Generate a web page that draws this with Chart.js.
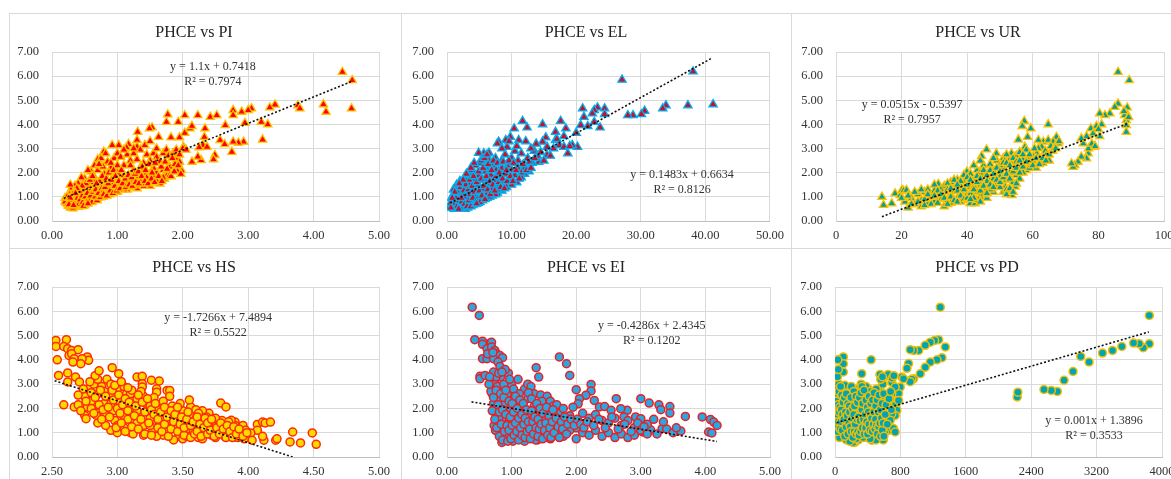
<!DOCTYPE html>
<html>
<head>
<meta charset="utf-8">
<script src="https://cdn.jsdelivr.net/npm/chart.js"></script>
<style>
html,body{margin:0;padding:0;background:#fff;overflow:hidden;width:1171px;height:479px;}
.box{position:absolute;box-sizing:border-box;border:1px solid #d9d9d9;}
canvas{position:absolute;}
</style>
</head>
<body>
<div class="box" style="left:9px;top:13px;width:393px;height:236px"></div>
<div class="box" style="left:401px;top:13px;width:391px;height:236px"></div>
<div class="box" style="left:791px;top:13px;width:400px;height:236px"></div>
<div class="box" style="left:9px;top:248px;width:393px;height:240px"></div>
<div class="box" style="left:401px;top:248px;width:391px;height:240px"></div>
<div class="box" style="left:791px;top:248px;width:400px;height:240px"></div>
<canvas id="c1" width="392" height="234" style="left:9px;top:13px"></canvas>
<canvas id="c2" width="389" height="234" style="left:402px;top:13px"></canvas>
<canvas id="c3" width="390" height="234" style="left:792px;top:13px"></canvas>
<canvas id="c4" width="392" height="231" style="left:9px;top:248px"></canvas>
<canvas id="c5" width="389" height="231" style="left:402px;top:248px"></canvas>
<canvas id="c6" width="390" height="231" style="left:792px;top:248px"></canvas>
<script>
// ---------------- DATA ----------------
const titles = ["PHCE vs PI","PHCE vs EL","PHCE vs UR","PHCE vs HS","PHCE vs EI","PHCE vs PD"];
const equations = [
  ["y = 1.1x + 0.7418","R² = 0.7974"],
  ["y = 0.1483x + 0.6634","R² = 0.8126"],
  ["y = 0.0515x - 0.5397","R² = 0.7957"],
  ["y = -1.7266x + 7.4894","R² = 0.5522"],
  ["y = -0.4286x + 2.4345","R² = 0.1202"],
  ["y = 0.001x + 1.3896","R² = 0.3533"]
];
const yTicks = [0,1,2,3,4,5,6,7];

const piData = [
[4.44,6.17],[4.59,5.83],[4.58,4.66],[4.15,4.83],[4.19,4.52],[3.76,4.79],[3.79,4.66],[3.41,4.82],[3.33,4.70],[3.20,4.10],[3.30,4.00],[3.22,3.37],[3.05,4.66],[3.00,4.59],[2.95,4.06],[2.90,4.52],[2.77,4.59],[2.77,4.38],[2.93,3.28],[2.85,3.24],[2.77,3.28],[2.75,2.86],[2.65,3.97],[2.57,3.35],[2.64,3.18],[2.42,4.31],[2.52,4.38],[2.49,2.73],[2.47,2.55],[2.23,4.38],[2.34,3.83],[2.33,3.48],[2.31,3.14],[2.37,3.07],[2.28,2.52],[2.23,2.66],[2.14,2.45],[2.03,4.38],[2.01,3.07],[2.03,3.65],[2.11,3.83],[2.14,3.93],[1.93,4.10],[1.95,3.46],[1.77,4.41],[1.75,4.10],[1.82,3.46],[1.53,3.87],[1.49,3.83],[1.63,3.48],[1.31,3.69],[1.30,3.35],[1.42,3.14],[1.30,3.07],[1.17,3.18],[1.14,3.04],[1.02,3.14],[0.92,3.14],[0.79,2.86],
[0.70,2.55],[0.75,2.60],[0.82,2.80],[0.85,2.45],[0.95,2.60],[1.00,2.80],[1.05,2.65],[1.10,2.30],[1.15,2.75],[1.20,2.50],[1.25,2.80],[1.30,2.55],[1.35,2.20],[1.45,2.75],[1.50,2.50],[1.55,2.80],[1.60,2.65],[1.65,2.45],[1.70,2.80],[1.75,2.95],[1.78,2.70],[1.85,2.80],[1.90,2.55],[1.95,2.45],[1.98,2.10],[1.80,2.25],[1.70,2.10],[1.60,2.00],[1.55,1.85],[1.45,2.00],[1.40,1.70],[1.30,1.85],[1.20,1.60],[1.25,2.10],[1.10,1.90],[1.00,2.00],[0.95,1.70],[0.90,2.20],[0.85,1.60],[0.80,1.95],[0.75,1.70],[0.70,2.10],[0.65,1.80],[0.60,2.05],[0.55,2.10],[0.50,1.75],[0.45,1.80],[0.40,1.55],[0.35,1.45],[0.30,1.35],[0.28,1.50],[1.72,1.75],[1.78,2.00],[1.65,1.55],[1.50,1.45],[1.40,1.50],[1.30,1.35],[1.15,1.30],[1.05,1.45],[1.90,2.95],[2.00,3.00],[1.60,3.00],[1.50,3.30],[1.35,2.95],[1.25,3.00],[1.10,2.95],[0.90,2.40],[1.40,2.40],[1.55,2.20],[1.20,2.30],[1.00,2.30],[0.65,2.30],[0.78,2.25],[1.88,2.35],[1.95,2.75],[2.05,2.95],[2.25,3.05],[1.92,2.05],[1.75,1.85],[1.62,1.72],
[0.20,0.95],[0.22,0.75],[0.25,0.62],[0.28,0.55],[0.30,0.70],[0.32,0.85],[0.35,1.00],[0.38,0.65],[0.40,0.80],[0.42,1.10],[0.45,0.70],[0.48,0.90],[0.50,1.20],[0.52,0.85],[0.55,1.00],[0.58,0.80],[0.60,1.30],[0.62,0.95],[0.65,1.10],[0.68,0.90],[0.70,1.40],[0.72,1.05],[0.75,1.20],[0.78,1.00],[0.80,1.50],[0.82,1.15],[0.85,1.30],[0.88,1.10],[0.90,1.45],[0.92,1.25],[0.95,1.60],[0.98,1.35],[1.00,1.20],[1.05,1.50],[1.10,1.30],[1.15,1.60],[1.20,1.40],[1.25,1.70],[1.30,1.50],[1.35,1.65],[1.40,1.45],[1.45,1.80],[1.50,1.60],[1.60,1.70],[1.70,1.80],[1.80,1.90],[0.25,0.85],[0.30,1.05],[0.33,1.20],[0.36,0.90],[0.40,1.30],[0.44,1.00],[0.50,0.65],[0.55,1.35],[0.60,0.85],[0.65,1.50],[0.70,0.95],[0.75,1.55],[0.35,0.60],[0.40,0.58],[0.45,0.60],[0.27,1.10],[0.23,1.00],[0.20,0.80],[0.32,0.52],
[0.24,0.70],[0.26,0.95],[0.29,0.80],[0.31,0.60],[0.34,0.75],[0.37,1.10],[0.39,0.95],[0.41,0.70],[0.43,0.88],[0.46,1.05],[0.47,0.78],[0.49,1.35],[0.51,1.00],[0.53,0.75],[0.54,1.15],[0.56,0.90],[0.57,1.45],[0.59,1.05],[0.61,0.78],[0.63,1.20],[0.64,1.60],[0.66,1.00],[0.67,1.30],[0.69,0.85],[0.71,1.15],[0.73,1.65],[0.74,0.98],[0.76,1.35],[0.77,1.85],[0.79,1.10],[0.81,1.40],[0.83,1.75],[0.84,1.05],[0.86,1.55],[0.87,2.00],[0.89,1.25],[0.91,1.70],[0.93,1.15],[0.94,2.10],[0.96,1.45],[0.97,1.85],[0.99,1.25],[1.02,1.65],[1.04,1.35],[1.06,2.10],[1.08,1.55],[1.12,1.75],[1.13,1.40],[1.17,1.90],[1.18,1.50],[1.22,1.80],[1.23,1.45],[1.27,1.95],[1.28,1.60],[1.32,2.05],[1.33,1.55],[1.37,1.85],[1.38,2.25],[1.42,1.65],[1.43,2.10],[1.47,1.55],[1.48,2.35],[1.52,1.75],[1.53,2.00],[1.57,1.60],[1.58,2.40],[1.63,1.85],[1.67,2.25],[1.68,1.65],[1.73,2.45],[1.76,2.15],[1.82,1.85],[1.84,2.60],[1.87,2.05],[1.93,2.30],[1.97,1.95],[0.52,1.55],[0.58,1.70],[0.62,1.85],[0.68,1.55],[0.72,2.35],[0.46,1.45],[0.42,1.25],[0.38,1.35],[0.36,1.15],[0.28,0.95],[0.26,0.68],[0.33,0.65],[0.48,0.62],[0.55,0.72]
];

const elData = [
[27.1,5.85],[38.1,6.19],[41.2,4.83],[37.3,4.79],[33.9,4.79],[33.4,4.66],[30.6,4.56],[30.1,4.42],[28.8,4.38],[28.0,4.38],[23.3,4.70],[22.8,4.59],[22.5,4.45],[24.4,4.66],[24.4,4.42],[21.0,4.66],[21.2,4.31],[21.8,3.93],[20.7,3.97],[23.7,3.87],[22.8,4.10],[20.0,3.65],[20.2,3.07],[19.4,3.14],[18.7,2.80],[17.6,4.14],[18.4,3.83],[16.8,3.69],[16.8,3.35],[17.4,3.14],[18.1,3.51],[18.1,3.07],[14.8,4.00],[15.3,3.46],[14.8,3.28],[15.5,3.07],[15.5,2.73],[11.7,4.14],[12.4,3.87],[10.4,3.83],[9.8,3.48],[11.1,3.35],[9.3,3.07],[9.1,3.35],[8.0,3.28],[7.8,3.21],[6.5,2.82],[5.7,2.80],[4.9,2.82],
[14.2,2.45],[13.5,2.90],[13.0,3.00],[12.5,2.60],[12.0,2.20],[11.5,2.80],[11.0,2.50],[10.5,2.90],[10.0,2.60],[9.5,2.30],[9.0,2.75],[8.5,2.50],[8.0,2.10],[7.5,2.60],[7.0,2.30],[6.5,2.50],[6.0,2.20],[5.5,2.60],[5.0,2.40],[4.5,1.90],[4.0,2.00],[3.5,1.85],[12.7,2.05],[13.2,2.40],[14.0,2.70],[16.0,2.70],[16.5,3.00],[15.0,2.50],[13.8,3.20],[12.2,3.30],[10.8,3.10],[9.6,3.30],[8.5,3.00],[17.0,3.40],[19.0,3.10],[12.0,1.95],[11.5,1.80],[10.8,1.60],[10.0,1.50],[9.2,1.40],[8.5,1.25],[7.8,1.15],[7.0,1.05],[6.2,0.95],[5.5,0.85],[4.8,0.75],[4.0,0.65],[3.2,0.55],[2.8,0.50],
[0.5,0.60],[0.8,0.70],[1.0,0.90],[1.2,0.60],[1.5,0.80],[1.8,1.00],[2.0,0.65],[2.2,1.20],[2.5,0.90],[2.8,1.30],[3.0,0.75],[3.2,1.10],[3.5,1.50],[3.8,0.90],[4.0,1.30],[4.2,1.70],[4.5,1.10],[4.8,1.50],[5.0,1.90],[5.2,0.95],[5.5,1.30],[5.8,1.70],[6.0,2.05],[6.2,1.15],[6.5,1.50],[6.8,1.90],[7.0,1.30],[7.3,1.70],[7.6,2.10],[7.9,1.45],[8.2,1.80],[8.5,2.20],[8.8,1.60],[9.1,1.95],[9.4,2.30],[9.7,1.75],[10.0,2.10],[10.5,1.90],[11.0,2.20],[11.5,2.00],[1.3,1.10],[1.7,1.30],[2.4,1.50],[2.9,1.70],[3.4,1.90],[3.9,2.10],[4.4,2.30],[5.3,2.50],[1.0,1.30],[1.5,1.50],[2.0,1.65],[0.7,0.95],[2.6,0.60],[3.6,0.70],[4.3,0.80],[6.6,1.00],[7.5,1.10],[8.3,1.30],[9.0,1.50],[1.1,0.50],[2.3,0.55],
[0.6,0.75],[0.9,0.55],[1.0,1.10],[1.3,0.75],[1.4,0.95],[1.6,0.62],[1.7,1.15],[1.9,0.85],[2.1,1.40],[2.1,0.55],[2.3,0.80],[2.4,1.05],[2.6,1.25],[2.7,0.70],[2.9,1.50],[3.0,1.00],[3.1,0.60],[3.3,1.30],[3.4,0.85],[3.5,1.70],[3.6,1.10],[3.7,0.60],[3.9,1.45],[4.0,0.95],[4.1,1.85],[4.3,1.20],[4.4,0.70],[4.6,1.60],[4.7,0.90],[4.9,2.05],[5.0,1.25],[5.1,0.78],[5.3,1.75],[5.4,1.05],[5.6,2.20],[5.7,1.45],[5.9,0.90],[6.1,1.85],[6.3,1.30],[6.4,2.35],[6.6,1.65],[6.7,1.10],[6.9,2.10],[7.1,1.50],[7.2,2.50],[7.4,1.25],[7.6,1.85],[7.8,2.40],[8.0,1.60],[8.1,2.00],[8.3,1.40],[8.6,1.75],[8.7,2.45],[8.9,1.35],[9.2,2.10],[9.3,1.65],[9.6,2.50],[9.8,1.85],[10.2,1.65],[10.3,2.40],[10.7,2.10],[11.2,1.75],[11.8,2.35],[12.3,2.10],[12.8,2.45],[13.0,2.20],[13.6,2.60],[14.5,2.85],[5.8,2.60],[6.2,2.75],[4.2,2.40],[3.7,2.20],[3.0,1.95],[2.5,1.70],[1.9,1.55],[1.2,1.20],[0.8,0.95],[0.6,0.55],[1.8,0.50],[4.6,0.72],[2.2,0.95]
];

const urData = [
[86.0,6.17],[89.4,5.83],[86.0,4.86],[85.0,4.72],[83.5,4.45],[82.0,4.38],[80.4,4.45],[88.8,4.70],[88.6,4.45],[88.0,4.38],[88.5,4.17],[88.5,3.97],[88.5,3.69],[89.2,4.30],[87.8,4.55],[79.4,3.93],[77.7,3.83],[80.4,3.51],[78.4,3.62],[76.4,3.51],[75.4,3.21],[74.8,3.42],[78.4,3.07],[76.9,2.80],[76.4,2.59],[74.8,2.66],[73.8,2.45],[72.8,2.31],[72.3,2.24],[71.8,2.38],[81.0,4.00],[80.0,3.80],[77.0,3.00],[78.0,3.20],[79.0,3.10],
[64.7,4.00],[57.4,4.14],[56.8,3.93],[59.4,3.83],[55.6,3.37],[58.4,3.48],[57.6,3.07],[63.2,3.28],[62.7,3.07],[61.7,3.35],[64.7,3.35],[67.2,3.48],[67.8,3.21],[66.2,3.28],[66.7,3.07],[61.7,3.00],[61.2,2.80],[60.1,2.66],[62.7,2.52],[65.5,3.10],[68.0,3.30],[63.8,2.90],[59.0,2.60],[60.5,3.00],
[45.9,2.96],[48.9,2.80],[44.4,2.69],[53.5,2.80],[54.6,2.66],[39.9,2.04],[31.2,1.53],[14.0,1.00],[14.5,0.66],[17.0,0.73],[18.0,1.14],[19.6,1.07],[20.1,1.28],[20.6,1.25],[21.5,1.28],[23.0,0.95],[24.0,0.70],[25.0,1.10],[26.0,0.85],[27.0,1.20],[28.0,1.30],[29.0,1.00],[30.0,1.25],[21.0,0.80],[22.0,0.55],[26.0,0.60],
[51.0,1.21],[51.6,1.42],[53.6,1.07],[54.6,1.42],[39.9,0.87],[40.9,0.73],[42.4,0.73],[42.9,0.87],
[30,0.80],[31,1.00],[32,0.90],[33,1.20],[34,0.85],[35,1.10],[36,1.40],[37,0.95],[38,1.25],[39,1.60],[40,1.10],[41,1.40],[42,1.75],[43,1.20],[44,1.50],[45,1.90],[46,1.35],[47,1.70],[48,2.10],[49,1.50],[50,1.85],[51,2.20],[52,1.70],[53,2.00],[54,2.40],[55,1.90],[56,2.20],[57,2.55],[58,2.10],[59,2.40],[60,2.50],[61,2.20],[62,2.60],[63,2.40],[64,2.70],[65,2.50],
[33,1.45],[35,1.60],[37,1.70],[39,1.90],[41,1.95],[43,2.10],[45,2.30],[47,2.35],[49,2.50],[51,2.60],[53,2.55],[55,2.70],[35,0.75],[38,0.80],[44,1.00],[46,0.95],[48,1.20],[50,1.40],[52,1.30],[54,1.60],[56,1.75],[57,2.00],[45,1.10],[47,1.30],[36,1.25],[32,1.30],[28,0.75],[30,1.50],[34,1.55],[40,1.80],[42,1.45],[44,2.00],[48,1.75],[50,2.30],[46,1.65],[38,1.45],[42,2.30],[44,2.50],[48,2.60],[52,2.75],[56,2.85],[58,2.95],[26,1.30],[33,0.60],
[20,0.95],[22,1.05],[23,0.70],[24,1.20],[25,0.80],[27,0.90],[28,1.10],[29,0.70],[31,1.25],[31,0.75],[32,1.10],[33,0.95],[34,1.30],[34,0.70],[35,1.00],[36,0.85],[36,1.70],[37,1.25],[37,0.80],[38,1.05],[38,1.65],[39,0.90],[39,1.30],[40,1.50],[40,0.95],[41,1.15],[41,1.70],[42,0.95],[42,1.30],[43,1.60],[43,1.85],[44,1.25],[44,1.75],[45,1.45],[45,2.10],[46,1.15],[46,1.90],[47,1.50],[47,2.10],[48,1.40],[48,1.95],[49,1.70],[49,2.20],[50,1.60],[50,2.05],[51,1.80],[51,2.40],[52,1.95],[52,2.40],[53,1.75],[53,2.30],[54,2.05],[54,2.60],[55,2.20],[55,2.45],[56,2.00],[56,2.50],[57,2.25],[57,2.75],[58,2.45],[59,2.20],[59,2.75],[60,2.30],[61,2.60],[62,2.35],[63,2.60],[64,2.50],[65,2.75],[66,2.90],[67,3.00],[52,1.10],[53,1.35],[55,1.55],[54,1.20],[44,0.80],[41,0.90],[37,1.50],[35,1.35],[30,1.05],[27,0.65]
];

const hsData = [
[2.53,4.80],[2.53,4.55],[2.61,4.83],[2.59,4.55],[2.62,4.46],[2.65,4.39],[2.63,4.18],[2.54,4.00],[2.70,4.42],[2.65,4.25],[2.67,4.05],[2.66,3.91],[2.77,4.12],[2.78,3.98],[2.73,4.05],[2.72,3.84],[2.55,3.36],[2.62,3.46],[2.62,3.09],[2.68,3.29],[2.71,3.09],[2.96,3.68],[3.01,3.43],[3.15,3.29],[3.19,3.32],[3.19,3.02],[3.19,2.88],[3.26,3.16],[3.30,2.81],[3.30,2.67],[3.32,3.13],[3.38,2.74],[3.40,2.74],[3.40,2.50],[3.56,2.06],[3.79,2.22],[3.83,2.06],[2.59,2.15],[2.67,2.06],[2.75,1.71],[2.76,1.58],[2.77,2.06],[2.84,1.71],[2.85,1.40],[2.84,2.13],[2.95,1.10],[2.91,1.30],[4.07,1.34],[4.07,1.10],[4.11,1.44],[4.13,1.40],[4.17,1.44],[4.12,0.69],[4.11,0.85],[4.21,0.69],[4.22,0.75],[4.32,0.62],[4.34,1.03],[4.40,0.58],[4.49,0.99],[4.52,0.52],[3.90,1.44],[3.90,1.30],[3.87,1.51],[3.96,1.30],[3.94,1.03],[3.98,1.10],[4.02,0.99],[4.03,0.69],
[2.75,2.50],[2.78,2.80],[2.80,2.30],[2.82,3.00],[2.85,2.60],[2.88,2.90],[2.90,2.20],[2.92,3.20],[2.95,2.50],[2.97,1.90],[3.00,2.80],[3.02,2.30],[3.05,1.70],[3.07,2.60],[3.10,2.00],[3.12,1.50],[3.15,2.40],[3.17,1.80],[3.20,1.30],[3.22,2.20],[3.25,1.60],[3.27,1.10],[3.30,2.00],[3.32,1.40],[3.35,0.90],[3.37,1.80],[3.40,1.25],[3.42,2.10],[3.45,1.60],[3.47,0.85],[3.50,1.90],[3.52,1.35],[3.55,1.00],[3.57,1.70],[3.60,1.20],[3.62,0.80],[3.65,1.50],[3.67,1.05],[3.70,1.80],[3.72,0.90],[3.75,1.30],[3.77,1.10],[3.80,1.50],[3.82,0.85],[3.85,1.20],[3.87,0.95],[3.90,1.10],[3.92,0.80],[3.95,0.95],[3.97,0.75],
[2.85,3.20],[2.90,2.70],[2.95,3.00],[3.00,2.00],[3.05,2.90],[3.10,2.60],[3.15,1.90],[3.20,2.50],[3.25,2.10],[3.30,1.70],[3.35,2.30],[3.40,1.50],[3.45,1.95],[3.50,1.50],[3.55,1.75],[3.60,1.45],[3.65,1.90],[3.70,1.30],[3.75,1.60],[3.80,1.05],[3.05,1.20],[3.10,1.00],[3.15,1.40],[3.20,0.90],[3.25,1.30],[3.30,0.85],[3.38,1.05],[3.45,1.25],[3.50,0.75],[3.58,1.10],[3.65,0.75],[3.70,1.45],[3.75,0.80],[2.80,2.00],[2.90,1.80],[2.98,1.50],[3.00,1.30],[3.08,1.55],[2.95,2.20],[3.18,2.70],[3.28,2.45],[3.48,2.20],[3.60,1.95],[3.68,1.65],[3.78,1.35],[3.85,1.45],[3.55,2.35],[3.62,1.80],[3.00,1.00],[2.88,1.55],[3.12,0.95],[3.43,0.70],[3.53,0.85],
[2.80,2.65],[2.82,1.80],[2.83,2.45],[2.86,2.15],[2.87,2.75],[2.89,1.95],[2.91,2.50],[2.93,2.05],[2.94,1.65],[2.96,2.75],[2.97,2.35],[2.99,1.20],[3.01,2.55],[3.02,1.80],[3.03,1.40],[3.04,2.15],[3.06,2.40],[3.06,1.05],[3.08,1.90],[3.09,2.25],[3.11,1.25],[3.11,2.75],[3.13,1.70],[3.14,2.10],[3.16,1.15],[3.16,2.55],[3.18,1.55],[3.19,2.25],[3.21,0.95],[3.21,1.85],[3.23,2.40],[3.24,1.40],[3.26,1.95],[3.26,0.90],[3.28,1.75],[3.29,2.20],[3.31,1.20],[3.31,1.55],[3.33,1.85],[3.34,1.05],[3.36,2.05],[3.36,1.35],[3.38,1.65],[3.39,0.85],[3.41,1.90],[3.41,1.15],[3.43,1.45],[3.44,1.75],[3.46,1.05],[3.46,2.05],[3.48,1.35],[3.49,1.65],[3.51,0.90],[3.51,1.20],[3.53,1.55],[3.54,1.85],[3.56,1.30],[3.56,0.80],[3.58,1.45],[3.59,0.95],[3.61,1.65],[3.61,1.05],[3.63,1.35],[3.64,0.85],[3.66,1.20],[3.67,1.60],[3.69,0.95],[3.69,1.40],[3.71,1.10],[3.72,1.55],[3.74,0.85],[3.76,1.20],[3.78,0.95],[3.79,1.40],[3.81,1.15],[3.83,0.80],[3.84,1.30],[3.86,1.05],[3.88,0.80],[3.89,1.25],[3.91,0.95],[3.93,1.15],[3.96,0.85],[3.99,1.00],[2.98,2.95],[3.03,3.10],[3.08,2.85],[2.83,3.35],[2.86,3.55],[2.79,3.10],[2.76,2.30],[2.74,2.80],[2.70,2.55],[2.70,2.15],[2.72,1.90]
];

const eiData = [
[0.39,6.17],[0.50,5.83],[0.43,4.83],[0.55,4.77],[0.67,4.69],[0.55,4.64],[0.69,4.72],[0.62,4.46],[0.69,4.53],[0.74,4.39],[0.77,4.25],[0.82,4.18],[0.86,4.09],[0.55,4.05],[0.62,4.05],[0.72,4.05],[0.79,3.91],[0.82,3.73],[0.51,3.32],[0.51,3.22],[0.59,3.36],[0.69,3.29],[1.38,3.68],[1.42,3.29],[1.74,4.12],[1.85,3.84],[1.90,3.36],[2.00,2.77],[2.23,2.99],[2.23,2.72],[2.28,2.33],[2.15,2.54],[2.05,2.40],[2.03,2.19],[2.62,2.40],[3.00,2.40],[3.13,2.22],[3.28,2.15],[3.45,2.08],[3.45,1.81],[3.31,1.95],[3.69,1.67],[3.95,1.65],[4.08,1.54],[4.13,1.44],[4.18,1.30],[4.05,1.03],[4.10,0.99],[3.62,1.07],[3.33,1.17],[3.15,1.12],[3.03,1.03],[2.92,1.65],[3.00,1.58],[2.79,1.92],[2.69,1.99],[2.74,1.65],[2.36,2.06],[2.44,2.08],[2.54,1.92],
[0.95,3.45],[1.00,3.00],[1.10,3.20],[1.20,2.80],[1.25,3.00],[1.30,2.90],[1.35,2.60],[1.45,2.55],[1.50,2.20],[1.55,2.50],[1.60,2.30],[1.65,2.10],[1.70,2.15],[1.75,1.80],[1.80,2.00],[1.90,1.70],[1.95,2.05],[2.10,1.80],[2.20,1.60],[2.30,1.75],[2.40,1.50],[2.50,1.40],[2.60,1.60],[2.70,1.30],[2.80,1.50],[2.90,1.20],[3.10,1.35],[3.20,1.55],[3.40,1.15],[3.50,1.00],[2.00,1.20],[2.10,1.00],[2.20,0.90],[2.30,1.10],[2.40,0.85],[2.50,1.00],[2.60,0.80],[2.70,0.95],[2.80,0.80],[2.90,0.90],[3.00,1.10],[3.10,0.95],[1.60,0.75],[1.70,1.00],[1.80,0.85],[1.90,1.10],[2.00,0.75],[1.50,1.00],[1.40,0.70],
[0.70,2.60],[0.72,2.20],[0.75,1.80],[0.75,3.00],[0.78,1.40],[0.80,2.40],[0.80,1.00],[0.82,2.00],[0.85,0.60],[0.85,1.60],[0.87,2.80],[0.90,1.20],[0.90,2.20],[0.92,0.80],[0.95,1.90],[0.97,1.40],[1.00,2.50],[1.00,1.00],[1.02,0.65],[1.05,1.70],[1.07,2.20],[1.10,1.20],[1.10,0.80],[1.12,2.60],[1.15,1.50],[1.17,1.00],[1.20,2.00],[1.20,0.65],[1.22,1.30],[1.25,2.40],[1.27,0.85],[1.30,1.70],[1.32,1.10],[1.35,2.10],[1.37,0.70],[1.40,1.40],[1.42,1.90],[1.45,1.00],[1.47,2.30],[1.50,1.60],[1.52,0.80],[1.55,1.25],[1.57,1.90],[1.60,1.50],[1.62,1.10],[1.65,1.75],[1.68,1.30],[0.78,2.90],[0.83,3.30],[0.88,3.00],[0.93,2.60],[0.98,2.00],[1.03,2.80],[1.08,1.50],[1.13,1.80],[0.75,1.10],[0.80,1.60],[0.70,1.90],[0.73,1.30],[0.68,2.70],[0.65,3.00],
[0.72,2.45],[0.74,1.55],[0.76,2.75],[0.77,1.20],[0.79,2.15],[0.81,1.85],[0.81,0.85],[0.83,2.60],[0.84,1.35],[0.86,1.95],[0.86,0.70],[0.88,2.45],[0.89,1.05],[0.91,1.75],[0.91,2.75],[0.93,1.30],[0.94,0.65],[0.96,2.30],[0.96,1.10],[0.98,1.65],[0.99,0.75],[1.01,2.20],[1.01,1.30],[1.03,1.85],[1.04,0.90],[1.06,2.50],[1.06,1.40],[1.08,1.05],[1.09,2.00],[1.11,0.70],[1.11,1.60],[1.13,2.35],[1.14,1.20],[1.16,0.90],[1.16,1.75],[1.18,2.20],[1.19,1.35],[1.21,0.80],[1.21,1.60],[1.23,1.95],[1.24,1.05],[1.26,2.65],[1.26,1.45],[1.28,1.15],[1.29,0.75],[1.31,1.90],[1.31,2.40],[1.33,1.45],[1.34,0.95],[1.36,1.65],[1.38,1.20],[1.39,2.20],[1.41,0.85],[1.41,1.55],[1.43,1.15],[1.44,2.00],[1.46,1.35],[1.48,0.75],[1.49,1.80],[1.51,1.10],[1.53,1.40],[1.54,2.05],[1.56,0.90],[1.58,1.70],[1.59,1.20],[1.61,0.80],[1.63,1.45],[1.64,1.95],[1.66,1.00],[1.69,1.60],[1.72,1.25],[1.74,0.80],[1.77,1.45],[1.79,1.15],[1.82,1.65],[1.85,0.95],[1.87,1.35],[1.92,1.55],[1.97,1.30],[2.02,1.55],[2.07,1.35],[2.12,1.20],[2.17,1.45],[2.27,1.30],[2.35,1.55],[2.45,1.20],[2.55,1.65],[2.65,1.15],[2.75,1.35],[2.85,1.05],[2.95,1.40],[3.05,1.25],[3.25,0.95],[3.35,1.45],[3.55,1.20],[0.76,3.30],[0.72,3.50],[0.80,3.45],[0.90,3.60],[0.97,3.20],[0.66,3.30],[0.63,4.25],[0.71,4.30],[0.85,3.50]
];

const pdData = [
[1288,6.17],[3845,5.83],[3845,4.66],[3771,4.50],[3722,4.66],[3652,4.69],[3509,4.55],[3395,4.39],[3272,4.28],[3006,4.14],[3108,3.91],[2912,3.52],[2802,3.16],[2720,2.70],[2646,2.74],[2556,2.78],[2229,2.47],[2237,2.67],
[1268,4.83],[1219,4.80],[1166,4.73],[1104,4.60],[1023,4.39],[961,4.39],[920,4.42],[1350,4.53],[1309,4.09],[1247,4.00],[1166,3.91],[1104,3.70],[1043,3.43],[961,3.22],[900,3.85],[880,3.65],[940,3.20],[920,3.10],
[818,3.29],[798,2.88],[777,2.61],[757,2.26],[736,2.12],[757,1.92],[736,1.71],[695,3.07],[442,4.00],[102,4.12],[102,3.84],[102,3.50],[41,2.95],[327,3.43],[613,1.44],[654,1.10],[450,0.69],
[600,3.30],[650,3.40],[700,3.25],[720,3.35],[736,2.88],[695,2.60],[675,2.40],[654,2.06],[695,1.78],[675,1.51],[409,2.80],[716,1.17],[736,1.03],[777,2.33],[838,3.22],
[10,1.10],[20,1.50],[30,2.00],[40,2.50],[50,1.20],[60,1.80],[70,2.20],[80,0.90],[90,1.40],[100,2.70],[110,1.00],[120,1.70],[130,2.30],[140,0.70],[150,1.30],[160,2.00],[170,1.10],[180,2.60],[190,1.50],[200,0.80],[210,1.90],[220,1.20],[230,2.40],[240,0.60],[250,1.60],[260,2.10],[270,1.00],[280,1.80],[290,2.80],[300,1.30],[310,2.20],[320,0.90],[330,1.70],[340,2.50],[350,1.10],[360,2.00],[370,1.40],[380,2.90],[390,0.80],[400,1.60],[410,2.30],[420,1.20],[430,1.90],[440,1.00],[450,2.60],[460,1.50],[470,2.10],[480,1.30],[490,2.40],[500,1.10],[510,1.80],[520,2.20],[530,0.90],[540,1.60],[550,2.70],[560,1.30],[570,2.00],[580,1.70],[590,0.70],[600,2.30],
[15,1.90],[25,2.60],[35,1.30],[45,3.00],[55,0.80],[65,2.40],[75,1.60],[85,2.90],[95,1.20],[105,2.00],[125,1.00],[145,2.50],[165,1.60],[185,0.90],[205,2.20],[225,1.40],[245,2.70],[265,1.20],[285,0.70],[305,2.00],[325,1.50],[345,0.80],[365,2.30],[385,1.80],[405,1.00],[425,2.70],[445,1.40],[465,0.90],[485,1.90],[505,2.80],[525,1.50],[545,1.10],[565,2.50],[585,3.00],[605,1.00],
[220,0.60],[180,0.65],[260,0.75],[30,3.30],[40,3.60],[35,4.00],[320,3.00],[330,2.90],[550,3.40],[560,3.20],[580,3.30],[500,0.70],[430,0.75],[120,2.95],[200,2.90],[230,2.70],
[5,1.60],[12,2.30],[18,1.25],[22,2.75],[28,1.75],[33,1.05],[38,2.15],[42,1.45],[48,2.70],[52,1.85],[58,2.05],[62,1.15],[68,2.90],[72,1.45],[78,1.95],[82,2.55],[88,1.10],[92,1.75],[98,2.25],[108,1.55],[115,2.45],[118,0.85],[128,1.85],[135,1.25],[138,2.60],[148,1.70],[155,2.20],[158,0.95],[168,1.40],[175,2.10],[178,1.85],[188,1.25],[195,2.45],[198,1.05],[208,1.60],[215,2.00],[218,0.80],[228,1.75],[235,1.05],[238,2.10],[248,1.35],[255,2.50],[258,0.95],[268,1.55],[275,2.25],[278,1.05],[288,1.65],[295,0.90],[298,2.45],[308,1.50],[315,1.05],[318,2.65],[328,1.95],[335,1.20],[338,2.20],[348,1.55],[355,2.75],[358,0.95],[368,1.75],[375,1.20],[378,2.35],[388,1.45],[395,2.05],[398,0.95],[408,1.85],[415,1.35],[418,2.50],[428,1.10],[435,1.70],[438,2.20],[448,1.60],[455,1.05],[458,2.35],[468,1.35],[475,1.85],[478,2.65],[488,1.15],[495,1.55],[498,2.10],[508,1.30],[515,2.35],[518,0.95],[528,1.85],[535,1.25],[538,2.55],[548,1.40],[555,1.95],[558,0.85],[568,1.60],[575,2.20],[578,1.10],[588,1.40],[595,2.60],[598,0.85],[615,1.75],[625,2.15],[640,1.35],[660,2.40],[680,2.70],[690,1.95]
];

// trendline end points
const piTrend = [[0.18,0.94],[4.60,5.80]];
const elTrend = [[0.5,0.74],[41.1,6.76]];
const urTrend = [[14,0.18],[89,4.04]];
const hsTrend = [[2.52,3.14],[4.34,0.00]];
const eiTrend = [[0.38,2.27],[4.18,0.64]];
const pdTrend = [[20,1.41],[3840,5.15]];

// x axis tick ranges
const xAxes = [
  {min:0,max:5,step:1,dec:2},
  {min:0,max:50,step:10,dec:2},
  {min:0,max:100,step:20,dec:0},
  {min:2.5,max:5,step:0.5,dec:2},
  {min:0,max:5,step:1,dec:2},
  {min:0,max:4000,step:800,dec:0}
];

// ---------------- RENDER ----------------
const FONT = '"Liberation Serif", "Times New Roman", serif';
const eqPlugin = {
  id: 'eqText',
  afterDatasetsDraw(chart, args, opts) {
    if (!opts || !opts.lines) return;
    const {ctx, scales} = chart;
    const px = scales.x.getPixelForValue(opts.x);
    const py = scales.y.getPixelForValue(opts.y);
    ctx.save();
    ctx.font = '12px ' + FONT;
    ctx.fillStyle = '#333';
    ctx.textAlign = 'center';
    ctx.textBaseline = 'middle';
    opts.lines.forEach((t, i) => ctx.fillText(t, px, py + i * 15));
    ctx.restore();
  }
};

const panels = [
  {id:'c1', data:piData, trend:piTrend, style:'triangle', bg:'#FF0000', bd:'#FFC000', r:4.8, bw:1.3, yw:43, pr:22, xh:26, eq:{x:2.46,y:6.38}},
  {id:'c2', data:elData, trend:elTrend, style:'triangle', bg:'#C8102E', bd:'#00B0F0', r:4.8, bw:1.3, yw:45, pr:21, xh:26, eq:{x:36.4,y:1.91}},
  {id:'c3', data:urData, trend:urTrend, style:'triangle', bg:'#00A19A', bd:'#FFC000', r:4.8, bw:1.3, yw:44, pr:18, xh:26, eq:{x:23.2,y:4.81}},
  {id:'c4', data:hsData, trend:hsTrend, style:'circle', bg:'#FFD800', bd:'#FF2A00', r:4.0, bw:1.5, yw:43, pr:22, xh:22, eq:{x:3.77,y:5.72}},
  {id:'c5', data:eiData, trend:eiTrend, style:'circle', bg:'#2AA7DE', bd:'#E8202A', r:4.0, bw:1.5, yw:45, pr:21, xh:22, eq:{x:3.17,y:5.39}},
  {id:'c6', data:pdData, trend:pdTrend, style:'circle', bg:'#00A5B5', bd:'#F2BE00', r:4.0, bw:1.5, yw:43, pr:20, xh:22, eq:{x:3168,y:1.48}}
];

panels.forEach((p, i) => {
  const ax = xAxes[i];
  new Chart(document.getElementById(p.id), {
    type: 'scatter',
    data: {
      datasets: [
        {
          type: 'line',
          data: p.trend.map(d => ({x:d[0], y:d[1]})),
          showLine: true,
          pointRadius: 0,
          borderColor: '#111',
          borderWidth: 1.6,
          borderDash: [2, 2],
          fill: false,
          order: 0
        },
        {
          data: p.data.map(d => ({x:d[0], y:d[1]})),
          pointStyle: p.style,
          pointRadius: p.r,
          pointBorderWidth: p.bw,
          backgroundColor: p.bg,
          borderColor: p.bd,
          order: 1
        }
      ]
    },
    options: {
      responsive: false,
      animation: false,
      devicePixelRatio: 1,
      layout: {padding: {left:0, right:p.pr, top:0, bottom:0}},
      plugins: {
        legend: {display:false},
        tooltip: {enabled:false},
        title: {
          display: true,
          text: titles[i],
          color: '#222',
          font: {family: FONT, size: 16, weight: 'normal'},
          padding: {top: 10, bottom: 9.8}
        },
        eqText: {x: p.eq.x, y: p.eq.y, lines: equations[i]}
      },
      scales: {
        x: {
          type: 'linear',
          min: ax.min, max: ax.max,
          afterFit: s => { s.height = p.xh; },
          grid: {color:'#d9d9d9', drawTicks:false, lineWidth:1},
          border: {color:'#bfbfbf'},
          ticks: {
            stepSize: ax.step, autoSkip: false, maxRotation: 0, padding: 7,
            color: '#333', font: {family: FONT, size: 12.5},
            callback: v => Number(v).toFixed(ax.dec)
          }
        },
        y: {
          type: 'linear',
          min: 0, max: 7,
          afterFit: s => { s.width = p.yw; },
          afterBuildTicks: s => { s.ticks = yTicks.map(v => ({value:v})); },
          grid: {color:'#d9d9d9', drawTicks:false, lineWidth:1},
          border: {color:'#d9d9d9'},
          ticks: {
            padding: 13, color: '#333', font: {family: FONT, size: 12.5},
            callback: v => Number(v).toFixed(2)
          }
        }
      }
    },
    plugins: [eqPlugin]
  });
});
</script>
</body>
</html>
